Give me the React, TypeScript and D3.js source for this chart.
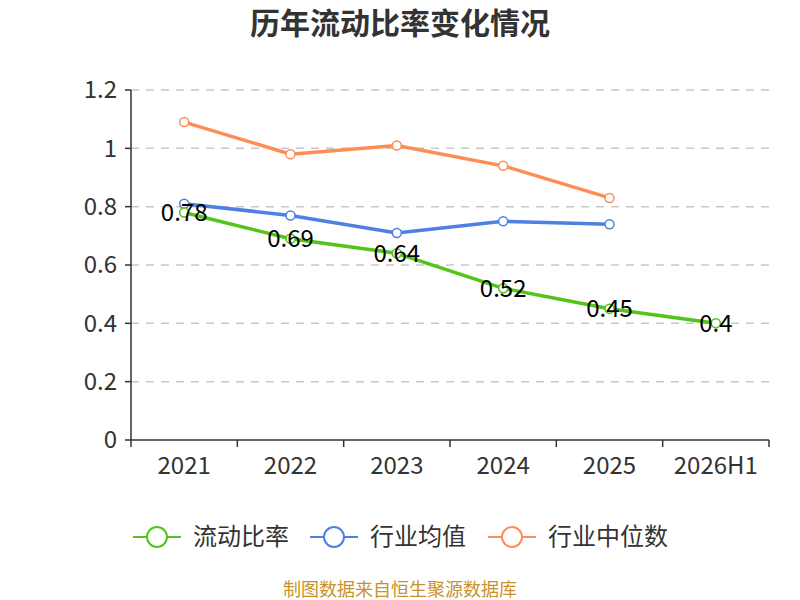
import React from "react";
import * as d3 from "d3";

const categories = ["2021", "2022", "2023", "2024", "2025", "2026H1"];
const currentRatio = [0.78, 0.69, 0.64, 0.52, 0.45, 0.4];
const industryAvg = [0.81, 0.77, 0.71, 0.75, 0.74];
const industryMedian = [1.09, 0.98, 1.01, 0.94, 0.83];
const yTicks = [0, 0.2, 0.4, 0.6, 0.8, 1, 1.2];
const seriesNames = ["流动比率", "行业均值", "行业中位数"];
const colors = ["#52C41A", "#4E7FE3", "#FF8C55"];

const W = 800;
const H = 600;
const FONT = "'Noto Sans CJK SC', 'Noto Sans', sans-serif";

export default function App() {
  const x = d3.scaleBand<string>().domain(categories).range([131, 769]);
  const y = d3.scaleLinear().domain([0, 1.2]).range([440, 90]);
  const cx = (c: string) => (x(c) as number) + x.bandwidth() / 2;

  const line = d3
    .line<number>()
    .x((_, i) => cx(categories[i]))
    .y((d) => y(d));

  const series = [currentRatio, industryAvg, industryMedian];
  const boundaries = [...categories.map((c) => x(c) as number), 769];

  const legendX = [133, 310, 488];

  return (
    <svg width={W} height={H} style={{ display: "block", position: "absolute", left: 0, top: 0 }} fontFamily={FONT}>
      <rect width={W} height={H} fill="#fff" />
      <text x={400} y={34} textAnchor="middle" fontSize={30} fontWeight="bold" fill="#333">
        历年流动比率变化情况
      </text>

      {yTicks.map((t) => (
        <g key={t}>
          {t > 0 && (
            <line x1={131} x2={769} y1={y(t)} y2={y(t)} stroke="#c8c8c8" strokeWidth={1.5} strokeDasharray="8,7" />
          )}
          <line x1={125} x2={131} y1={y(t)} y2={y(t)} stroke="#333" strokeWidth={1.5} />
          <text x={117} y={y(t)} dy="0.35em" textAnchor="end" fontSize={24} fill="#333">
            {d3.format("~g")(t)}
          </text>
        </g>
      ))}
      <line x1={131} x2={131} y1={90} y2={440} stroke="#333" strokeWidth={1.5} />
      <line x1={131} x2={769} y1={440} y2={440} stroke="#333" strokeWidth={1.5} />
      {boundaries.map((b, i) => (
        <line key={i} x1={b} x2={b} y1={440} y2={447} stroke="#333" strokeWidth={1.5} />
      ))}
      {categories.map((c) => (
        <text key={c} x={cx(c)} y={474} textAnchor="middle" fontSize={24} fill="#333">
          {c}
        </text>
      ))}

      {[2, 1, 0].map((si) => (
        <g key={si}>
          <path d={line(series[si]) || ""} fill="none" stroke={colors[si]} strokeWidth={3.5} />
          {series[si].map((v, i) => (
            <circle key={i} cx={cx(categories[i])} cy={y(v)} r={4.5} fill="#fff" stroke={colors[si]} strokeWidth={1.5} />
          ))}
        </g>
      ))}

      {currentRatio.map((v, i) => (
        <text key={i} x={cx(categories[i])} y={y(v)} dy="0.35em" textAnchor="middle" fontSize={24} fill="#000">
          {d3.format("~g")(v)}
        </text>
      ))}

      {seriesNames.map((n, i) => (
        <g key={n} transform={`translate(${legendX[i]},537)`}>
          <line x1={0} x2={48} y1={0} y2={0} stroke={colors[i]} strokeWidth={2} />
          <circle cx={24} cy={0} r={10} fill="#fff" stroke={colors[i]} strokeWidth={2} />
          <text x={60} y={0} dy="0.35em" fontSize={24} fill="#333">
            {n}
          </text>
        </g>
      ))}

      <text x={400} y={596} textAnchor="middle" fontSize={18} fill="#C8922A">
        制图数据来自恒生聚源数据库
      </text>
    </svg>
  );
}
